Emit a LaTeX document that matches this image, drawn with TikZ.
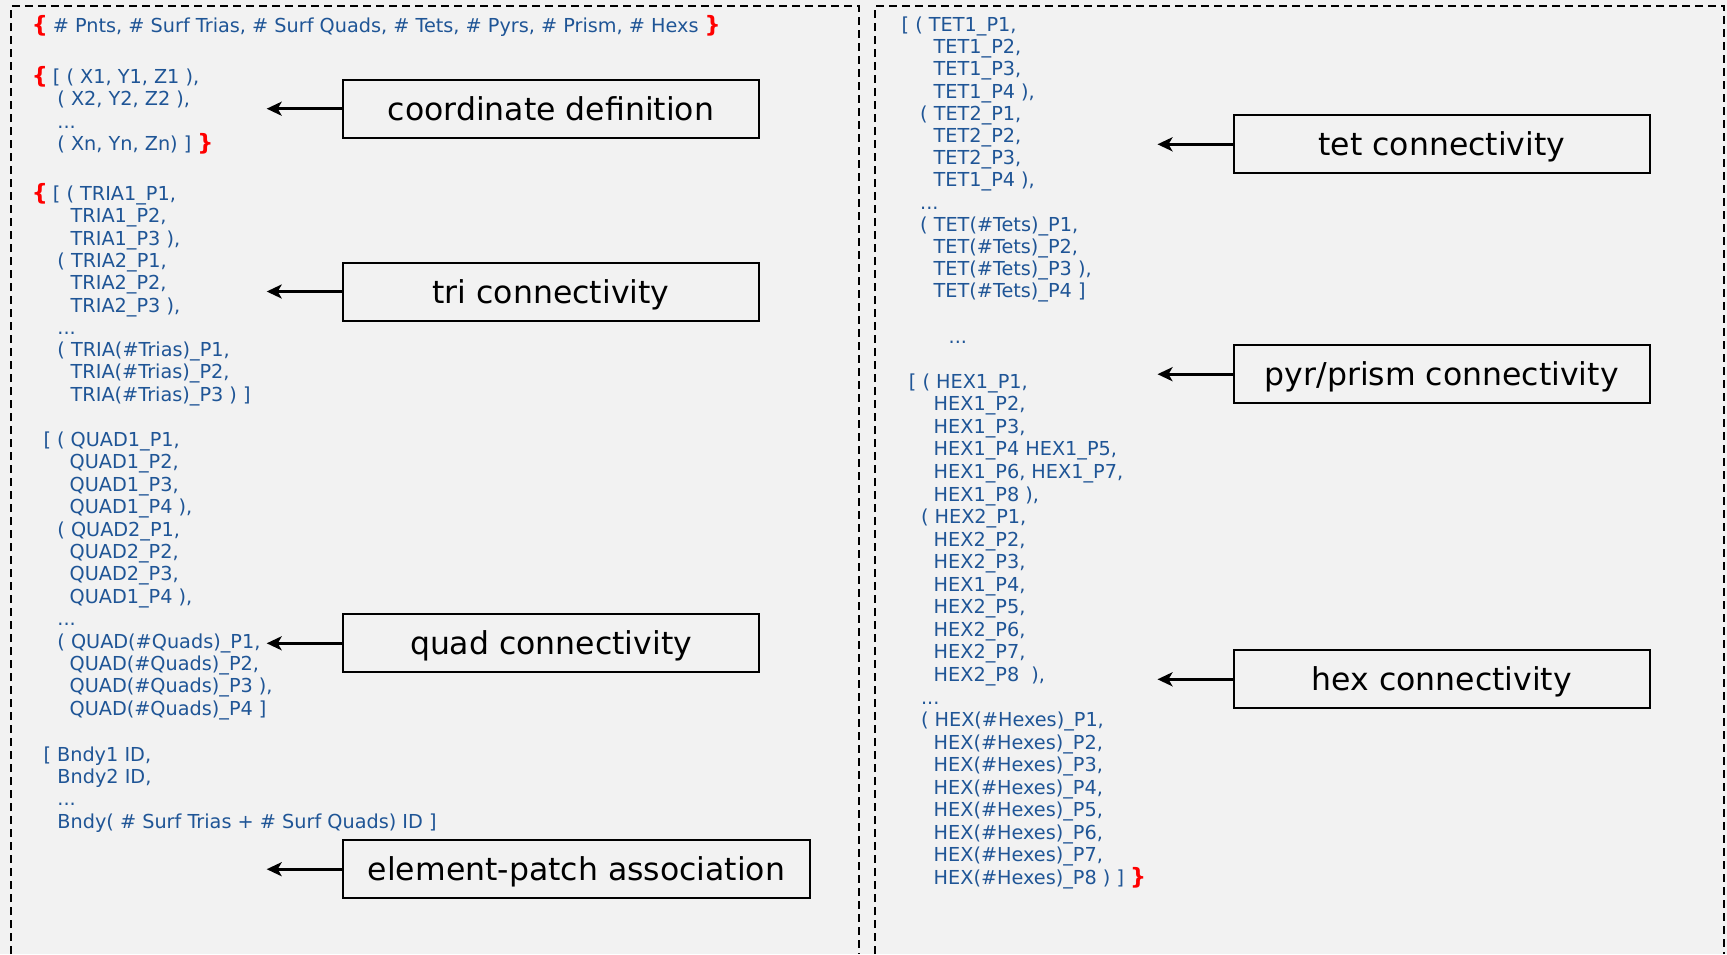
\documentclass[tikz,border=0pt]{standalone}
\usepackage{fontspec}
\setmainfont{DejaVu Sans}
\usetikzlibrary{arrows.meta}

\definecolor{panelbg}{HTML}{F2F2F2}
\definecolor{codeblue}{HTML}{1F5596}
\definecolor{bracered}{HTML}{FF0000}

% red curly braces that open and close the file sections
\newcommand{\bracefont}{\fontsize{22.5}{22.5}\selectfont\bfseries}
\newcommand{\lbr}{\makebox[21pt][l]{\smash{\textcolor{bracered}{\bracefont\{}}}}
\newcommand{\rbr}{\smash{\textcolor{bracered}{\bracefont\}}}}
% indentation of a listing line, in pt
\newcommand{\ind}[1]{\hspace*{#1pt}}

\begin{document}
\begin{tikzpicture}[x=1pt, y=-1pt,
  codeblk/.style={font=\fontsize{19.25}{22.4}\selectfont, text=codeblue,
                  inner sep=0pt, anchor=base west},
  tagbox/.style={draw=black, line width=2pt, fill=panelbg,
                 font=\fontsize{31.5}{36}\selectfont, text=black,
                 minimum height=58pt, minimum width=416pt, inner sep=0pt,
                 text height=23pt, text depth=0pt},
  ptr/.style={-{Stealth[length=15pt,width=14pt,inset=4pt]}, line width=2.7pt},
  panelframe/.style={line width=1.6pt, dash pattern=on 8pt off 5pt}]

% page and background
\useasboundingbox (0,0) rectangle (1727,954);
\fill[panelbg] (0,0) rectangle (1727,954);

% the two dashed panels, open at the bottom
\draw[panelframe] (11,954) -- (11,6) -- (859,6) -- (859,954);
\draw[panelframe] (875,954) -- (875,6) -- (1724,6) -- (1724,954);

% ---------------- left panel: listing ----------------
\node[codeblk] (header) at (31.7,32.7)
  {\lbr\# Pnts, \# Surf Trias, \# Surf Quads, \# Tets, \# Pyrs, \# Prism, \# Hexs \rbr};

\node[codeblk] (coordblk) at (31.7,83.5) {\begin{tabular}[t]{@{}l@{}}
\lbr[ ( X1, Y1, Z1 ),\\
\ind{25.5}( X2, Y2, Z2 ),\\
\ind{25.5}...\\
\ind{25.5}( Xn, Yn, Zn) ] \rbr
\end{tabular}};

\node[codeblk, font=\fontsize{19.25}{22.3}\selectfont] (triblk) at (31.7,200.5) {\begin{tabular}[t]{@{}l@{}}
\lbr[ ( TRIA1\_P1,\\
\ind{38.8}TRIA1\_P2,\\
\ind{38.8}TRIA1\_P3 ),\\
\ind{25.5}( TRIA2\_P1,\\
\ind{38.8}TRIA2\_P2,\\
\ind{38.8}TRIA2\_P3 ),\\
\ind{25.5}...\\
\ind{25.5}( TRIA(\#Trias)\_P1,\\
\ind{38.8}TRIA(\#Trias)\_P2,\\
\ind{38.8}TRIA(\#Trias)\_P3 ) ]
\end{tabular}};

\node[codeblk] (quadblk) at (43.3,446.5) {\begin{tabular}[t]{@{}l@{}}
[ ( QUAD1\_P1,\\
\ind{26.1}QUAD1\_P2,\\
\ind{26.1}QUAD1\_P3,\\
\ind{26.1}QUAD1\_P4 ),\\
\ind{13.9}( QUAD2\_P1,\\
\ind{26.1}QUAD2\_P2,\\
\ind{26.1}QUAD2\_P3,\\
\ind{26.1}QUAD1\_P4 ),\\
\ind{13.9}...\\
\ind{13.9}( QUAD(\#Quads)\_P1,\\
\ind{26.1}QUAD(\#Quads)\_P2,\\
\ind{26.1}QUAD(\#Quads)\_P3 ),\\
\ind{26.1}QUAD(\#Quads)\_P4 ]
\end{tabular}};

\node[codeblk, font=\fontsize{19.25}{22.2}\selectfont] (bndyblk) at (43.3,761.5) {\begin{tabular}[t]{@{}l@{}}
[ Bndy1 ID,\\
\ind{13.9}Bndy2 ID,\\
\ind{13.9}...\\
\ind{13.9}Bndy( \# Surf Trias + \# Surf Quads) ID ]
\end{tabular}};

% ---------------- right panel: listing ----------------
\node[codeblk, font=\fontsize{19.25}{22.2}\selectfont] (tetblk) at (901.5,31.5) {\begin{tabular}[t]{@{}l@{}}
[ ( TET1\_P1,\\
\ind{32}TET1\_P2,\\
\ind{32}TET1\_P3,\\
\ind{32}TET1\_P4 ),\\
\ind{18.5}( TET2\_P1,\\
\ind{32}TET2\_P2,\\
\ind{32}TET2\_P3,\\
\ind{32}TET1\_P4 ),\\
\ind{18.5}...\\
\ind{18.5}( TET(\#Tets)\_P1,\\
\ind{32}TET(\#Tets)\_P2,\\
\ind{32}TET(\#Tets)\_P3 ),\\
\ind{32}TET(\#Tets)\_P4 ]
\end{tabular}};

\node[codeblk] (midgap) at (948.5,343) {...};

\node[codeblk, font=\fontsize{19.25}{22.56}\selectfont] (hexblk) at (908.7,388.2) {\begin{tabular}[t]{@{}l@{}}
[ ( HEX1\_P1,\\
\ind{24.8}HEX1\_P2,\\
\ind{24.8}HEX1\_P3,\\
\ind{24.8}HEX1\_P4 HEX1\_P5,\\
\ind{24.8}HEX1\_P6, HEX1\_P7,\\
\ind{24.8}HEX1\_P8 ),\\
\ind{12.1}( HEX2\_P1,\\
\ind{24.8}HEX2\_P2,\\
\ind{24.8}HEX2\_P3,\\
\ind{24.8}HEX1\_P4,\\
\ind{24.8}HEX2\_P5,\\
\ind{24.8}HEX2\_P6,\\
\ind{24.8}HEX2\_P7,\\
\ind{24.8}HEX2\_P8\ \ ),\\
\ind{12.1}...\\
\ind{12.1}( HEX(\#Hexes)\_P1,\\
\ind{24.8}HEX(\#Hexes)\_P2,\\
\ind{24.8}HEX(\#Hexes)\_P3,\\
\ind{24.8}HEX(\#Hexes)\_P4,\\
\ind{24.8}HEX(\#Hexes)\_P5,\\
\ind{24.8}HEX(\#Hexes)\_P6,\\
\ind{24.8}HEX(\#Hexes)\_P7,\\
\ind{24.8}HEX(\#Hexes)\_P8 ) ] \rbr
\end{tabular}};

% ---------------- section labels ----------------
\node[tagbox] (coordbox) at (551,108.7) {coordinate definition};
\node[tagbox] (tribox)   at (551,291.5) {tri connectivity};
\node[tagbox] (quadbox)  at (551,643.3) {quad connectivity};
\node[tagbox, minimum width=467pt] (elembox) at (576.5,869.2) {element-patch association};
\node[tagbox, minimum width=415.6pt] (tetbox) at (1441.8,144.3) {tet connectivity};
\node[tagbox, minimum width=415.6pt] (pyrbox) at (1441.8,374.2) {pyr/prism connectivity};
\node[tagbox, minimum width=415.6pt] (hexbox) at (1441.8,679.3) {hex connectivity};

% arrow tips pointing at the listing
\coordinate (coordtip) at (266.7,108.7);
\coordinate (tritip)   at (266.7,291.5);
\coordinate (quadtip)  at (266.7,643.3);
\coordinate (elemtip)  at (266.7,869.2);
\coordinate (tettip)   at (1157.5,144.3);
\coordinate (pyrtip)   at (1157.5,374.2);
\coordinate (hextip)   at (1157.5,679.3);

\draw[ptr] (coordbox.west) -- (coordtip);
\draw[ptr] (tribox.west)   -- (tritip);
\draw[ptr] (quadbox.west)  -- (quadtip);
\draw[ptr] (elembox.west)  -- (elemtip);
\draw[ptr] (tetbox.west)   -- (tettip);
\draw[ptr] (pyrbox.west)   -- (pyrtip);
\draw[ptr] (hexbox.west)   -- (hextip);
\end{tikzpicture}
\end{document}
